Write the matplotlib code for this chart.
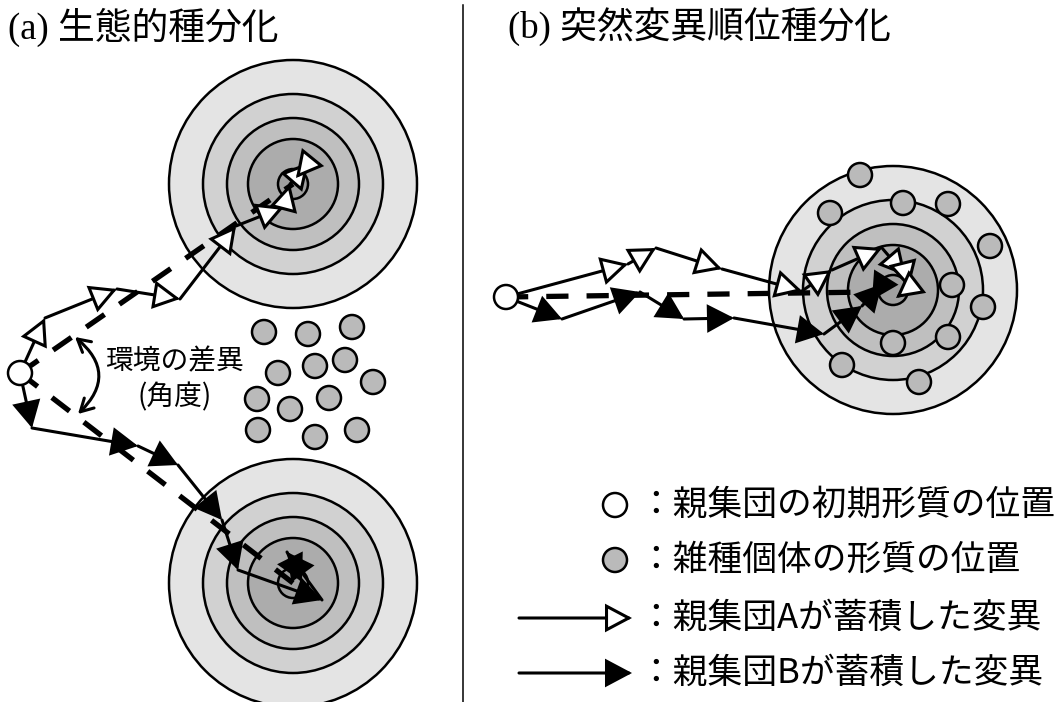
import matplotlib
matplotlib.use('Agg')
import matplotlib.pyplot as plt
from matplotlib.patches import Circle, FancyArrowPatch, ArrowStyle

plt.rcParams['font.family'] = ['Noto Sans CJK JP', 'DejaVu Sans']
plt.rcParams['lines.scale_dashes'] = False

# ---------------- data (pixel coordinates of the diagram) ----------------
titles = ['(a) 生態的種分化', '(b) 突然変異順位種分化']
angle_label = ['環境の差異', '(角度)']
legend_labels = ['：親集団の初期形質の位置', '：雑種個体の形質の位置',
                 '：親集団Aが蓄積した変異', '：親集団Bが蓄積した変異']

ring_radii = [124, 90, 66, 45, 15]
ring_colors = ['#e4e4e4', '#d1d1d1', '#bfbfbf', '#acacac', '#a0a0a0']

# panel (a)
a_start = (20, 373)
a_targets_x = [293, 293]
a_targets_y = [184, 583]
a_hyb_x = [264, 308, 352, 278, 315, 345, 373, 257, 290, 329, 258, 315, 357]
a_hyb_y = [332, 334, 327, 373, 366, 360, 382, 399, 409, 398, 430, 437, 430]
a_A_x = [20, 45, 117, 180, 236, 284, 290, 309, 296]
a_A_y = [373, 318, 289, 299, 226, 207, 184, 162, 178]
a_B_x = [20, 32, 138, 178, 222, 238, 322, 287, 302]
a_B_y = [373, 428, 446, 465, 520, 570, 600, 552, 582]

# panel (b)
b_start = (506, 297)
b_target = (893, 290)
b_dash_end = (872, 292)
b_hyb_x = [860, 830, 903, 948, 990, 952, 983, 948, 893, 842, 919]
b_hyb_y = [175, 213, 203, 204, 246, 285, 307, 337, 343, 365, 382]
b_A_x = [506, 628, 656, 722, 802, 832, 882, 906, 909, 896]
b_A_y = [297, 264, 248, 269, 291, 270, 248, 276, 288, 298]
b_B_x = [506, 562, 640, 684, 734, 824, 862, 882, 872]
b_B_y = [297, 319, 292, 319, 318, 334, 306, 284, 300]

# legend
leg_rows_y = [505, 560, 618, 673]
leg_sym_x = 615
leg_line_x = [519, 632]
leg_text_x = 638

# ---------------- figure ----------------
W, H = 1063, 702
fig = plt.figure(figsize=(W / 100, H / 100), dpi=100)
ax = fig.add_axes([0, 0, 1, 1])
ax.set_xlim(0, W)
ax.set_ylim(H, 0)
ax.axis('off')


def target(cx, cy):
    for r, c in zip(ring_radii, ring_colors):
        ax.add_patch(Circle((cx, cy), r, fc=c, ec='black', lw=1.8, zorder=1))


def arrow(p0, p1, fc, z=4):
    a = FancyArrowPatch(p0, p1, arrowstyle=ArrowStyle('-|>', head_length=16, head_width=8.5),
                        mutation_scale=1, shrinkA=0, shrinkB=0, fc=fc, ec='black',
                        lw=2.2, zorder=z, joinstyle='miter')
    ax.add_patch(a)


def path(xs, ys, fc, z=4):
    for i in range(len(xs) - 1):
        arrow((xs[i], ys[i]), (xs[i + 1], ys[i + 1]), fc, z)


def dashed(p0, p1):
    ax.plot([p0[0], p1[0]], [p0[1], p1[1]], color='black', lw=3.8,
            dashes=(16, 13), dash_capstyle='butt', zorder=3)


def dot(x, y, fc, z=6):
    ax.add_patch(Circle((x, y), 12, fc=fc, ec='black', lw=1.8, zorder=z))


# separator
ax.plot([463, 463], [5, H], color='black', lw=1.1)

# titles
ax.text(8, 27, titles[0], fontsize=26.5, family=['Liberation Serif', 'Noto Sans CJK JP'],
        va='center', ha='left')
ax.text(508, 27, titles[1], fontsize=26.5, family=['Liberation Serif', 'Noto Sans CJK JP'],
        va='center', ha='left')

# ---- panel (a)
for cx, cy in zip(a_targets_x, a_targets_y):
    target(cx, cy)
for x, y in zip(a_hyb_x, a_hyb_y):
    dot(x, y, '#bababa')
dashed(a_start, (a_targets_x[0], a_targets_y[0]))
dashed(a_start, (a_targets_x[1], a_targets_y[1]))
path(a_A_x, a_A_y, 'white')
path(a_B_x, a_B_y, 'black')
dot(a_start[0], a_start[1], 'white', z=7)

arc = FancyArrowPatch((75, 337), (78, 414), connectionstyle='arc3,rad=-0.55',
                      arrowstyle=ArrowStyle('<->', head_length=9, head_width=5),
                      mutation_scale=1, shrinkA=0, shrinkB=0, color='black', lw=2.2, zorder=5)
ax.add_patch(arc)
ax.text(174, 361, angle_label[0], fontsize=20, ha='center', va='center')
ax.text(175, 397, angle_label[1], fontsize=20, ha='center', va='center')

# ---- panel (b)
target(*b_target)
dashed(b_start, b_dash_end)
path(b_A_x, b_A_y, 'white')
path(b_B_x, b_B_y, 'black')
for x, y in zip(b_hyb_x, b_hyb_y):
    dot(x, y, '#bababa')
dot(b_start[0], b_start[1], 'white', z=7)

# ---- legend
dot(leg_sym_x, leg_rows_y[0], 'white')
dot(leg_sym_x, leg_rows_y[1], '#bababa')
arrow((leg_line_x[0], leg_rows_y[2]), (leg_line_x[1], leg_rows_y[2]), 'white')
arrow((leg_line_x[0], leg_rows_y[3]), (leg_line_x[1], leg_rows_y[3]), 'black')
for y, lab in zip(leg_rows_y, legend_labels):
    ax.text(leg_text_x, y, lab, fontsize=25, ha='left', va='center')

fig.savefig('out.png', dpi=100)
